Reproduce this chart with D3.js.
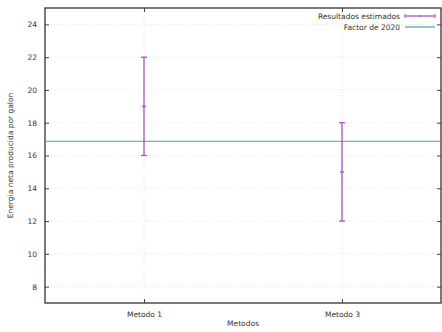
<!DOCTYPE html>
<html lang="es">
<head>
<meta charset="utf-8">
<title>Energia neta producida por galon</title>
<script src="https://d3js.org/d3.v7.min.js"></script>
<style>
  body { margin: 0; background: #fff; }
  svg text { font-family: "DejaVu Sans", sans-serif; fill: #333; }
</style>
</head>
<body>
<script>
// data
var metodos = ["Metodo 1", "Metodo 3"];
var centro = [19, 15];
var minimo = [16, 12];
var maximo = [22, 18];
var factor2020 = 16.87;
var yTicks = [8, 10, 12, 14, 16, 18, 20, 22, 24];

var W = 442, H = 332;
var m = {left: 45, right: 1, top: 8, bottom: 29};

var svg = d3.select("body").append("svg").attr("width", W).attr("height", H);

var x = d3.scaleLinear().domain([0.5, 2.5]).range([m.left, W - m.right]);
var y = d3.scaleLinear().domain([7, 25]).range([H - m.bottom, m.top]);

var rows = metodos.map(function(d, i) {
  return {name: d, pos: i + 1, c: centro[i], lo: minimo[i], hi: maximo[i]};
});

// grid
svg.append("g").selectAll("line.gy").data(yTicks).enter().append("line")
  .attr("x1", m.left).attr("x2", W - m.right)
  .attr("y1", d => y(d)).attr("y2", d => y(d))
  .attr("stroke", "#e4e4e4").attr("stroke-dasharray", "1,2");
svg.append("g").selectAll("line.gx").data(rows).enter().append("line")
  .attr("x1", d => x(d.pos)).attr("x2", d => x(d.pos))
  .attr("y1", m.top).attr("y2", H - m.bottom)
  .attr("stroke", "#e4e4e4").attr("stroke-dasharray", "1,2");

// axes
var yAxis = d3.axisLeft(y).tickValues(yTicks).tickSizeInner(-4).tickSizeOuter(0).tickPadding(8);
var gy = svg.append("g").attr("transform", `translate(${m.left},0)`).call(yAxis);
var yAxisR = d3.axisRight(y).tickValues(yTicks).tickSizeInner(-4).tickSizeOuter(0).tickFormat("");
var gyr = svg.append("g").attr("transform", `translate(${W - m.right},0)`).call(yAxisR);

var xAxis = d3.axisBottom(x).tickValues(rows.map(d => d.pos))
  .tickFormat((d, i) => metodos[i]).tickSizeInner(-4).tickSizeOuter(0).tickPadding(9);
var gx = svg.append("g").attr("transform", `translate(0,${H - m.bottom})`).call(xAxis);
var xAxisT = d3.axisTop(x).tickValues(rows.map(d => d.pos)).tickSizeInner(-4).tickSizeOuter(0).tickFormat("");
var gxt = svg.append("g").attr("transform", `translate(0,${m.top})`).call(xAxisT);

[gy, gyr, gx, gxt].forEach(function(g) {
  g.select(".domain").remove();
  g.selectAll(".tick line").attr("stroke", "#444");
  g.selectAll("text").attr("font-size", 7.5).attr("fill", "#333");
});

// border
svg.append("rect").attr("x", m.left).attr("y", m.top)
  .attr("width", W - m.right - m.left).attr("height", H - m.bottom - m.top)
  .attr("fill", "none").attr("stroke", "#333").attr("stroke-width", 1.3);

// factor 2020 line
svg.append("line")
  .attr("x1", m.left).attr("x2", W - m.right)
  .attr("y1", y(factor2020)).attr("y2", y(factor2020))
  .attr("stroke", "#3fa89a").attr("stroke-width", 1.2);

// error bars
var col = "#a83fd8";
var eb = svg.append("g").selectAll("g").data(rows).enter().append("g");
eb.append("line")
  .attr("x1", d => x(d.pos)).attr("x2", d => x(d.pos))
  .attr("y1", d => y(d.lo)).attr("y2", d => y(d.hi))
  .attr("stroke", col).attr("stroke-width", 1.2);
eb.append("line")
  .attr("x1", d => x(d.pos) - 3).attr("x2", d => x(d.pos) + 3)
  .attr("y1", d => y(d.lo)).attr("y2", d => y(d.lo))
  .attr("stroke", col).attr("stroke-width", 1.2);
eb.append("line")
  .attr("x1", d => x(d.pos) - 3).attr("x2", d => x(d.pos) + 3)
  .attr("y1", d => y(d.hi)).attr("y2", d => y(d.hi))
  .attr("stroke", col).attr("stroke-width", 1.2);
eb.append("line")
  .attr("x1", d => x(d.pos) - 2).attr("x2", d => x(d.pos) + 2)
  .attr("y1", d => y(d.c)).attr("y2", d => y(d.c))
  .attr("stroke", col).attr("stroke-width", 1.2);

// legend
var lg = svg.append("g").attr("font-size", 7.5);
lg.append("text").attr("x", 400).attr("y", 19).attr("text-anchor", "end").text("Resultados estimados");
lg.append("line").attr("x1", 405).attr("x2", 435).attr("y1", 16).attr("y2", 16).attr("stroke", col).attr("stroke-width", 1.2);
lg.append("line").attr("x1", 405).attr("x2", 405).attr("y1", 14).attr("y2", 18).attr("stroke", col);
lg.append("line").attr("x1", 435).attr("x2", 435).attr("y1", 14).attr("y2", 18).attr("stroke", col);
lg.append("line").attr("x1", 419).attr("x2", 421).attr("y1", 16).attr("y2", 16).attr("stroke", col);
lg.append("text").attr("x", 400).attr("y", 30).attr("text-anchor", "end").text("Factor de 2020");
lg.append("line").attr("x1", 405).attr("x2", 435).attr("y1", 27).attr("y2", 27).attr("stroke", "#3fa89a").attr("stroke-width", 1.2);

// axis titles
svg.append("text").attr("x", (m.left + W - m.right) / 2).attr("y", 326)
  .attr("text-anchor", "middle").attr("font-size", 7.5).text("Metodos");
svg.append("text").attr("transform", `translate(13,${(m.top + H - m.bottom) / 2}) rotate(-90)`)
  .attr("text-anchor", "middle").attr("font-size", 7.5).text("Energia neta producida por galon");
</script>
</body>
</html>
